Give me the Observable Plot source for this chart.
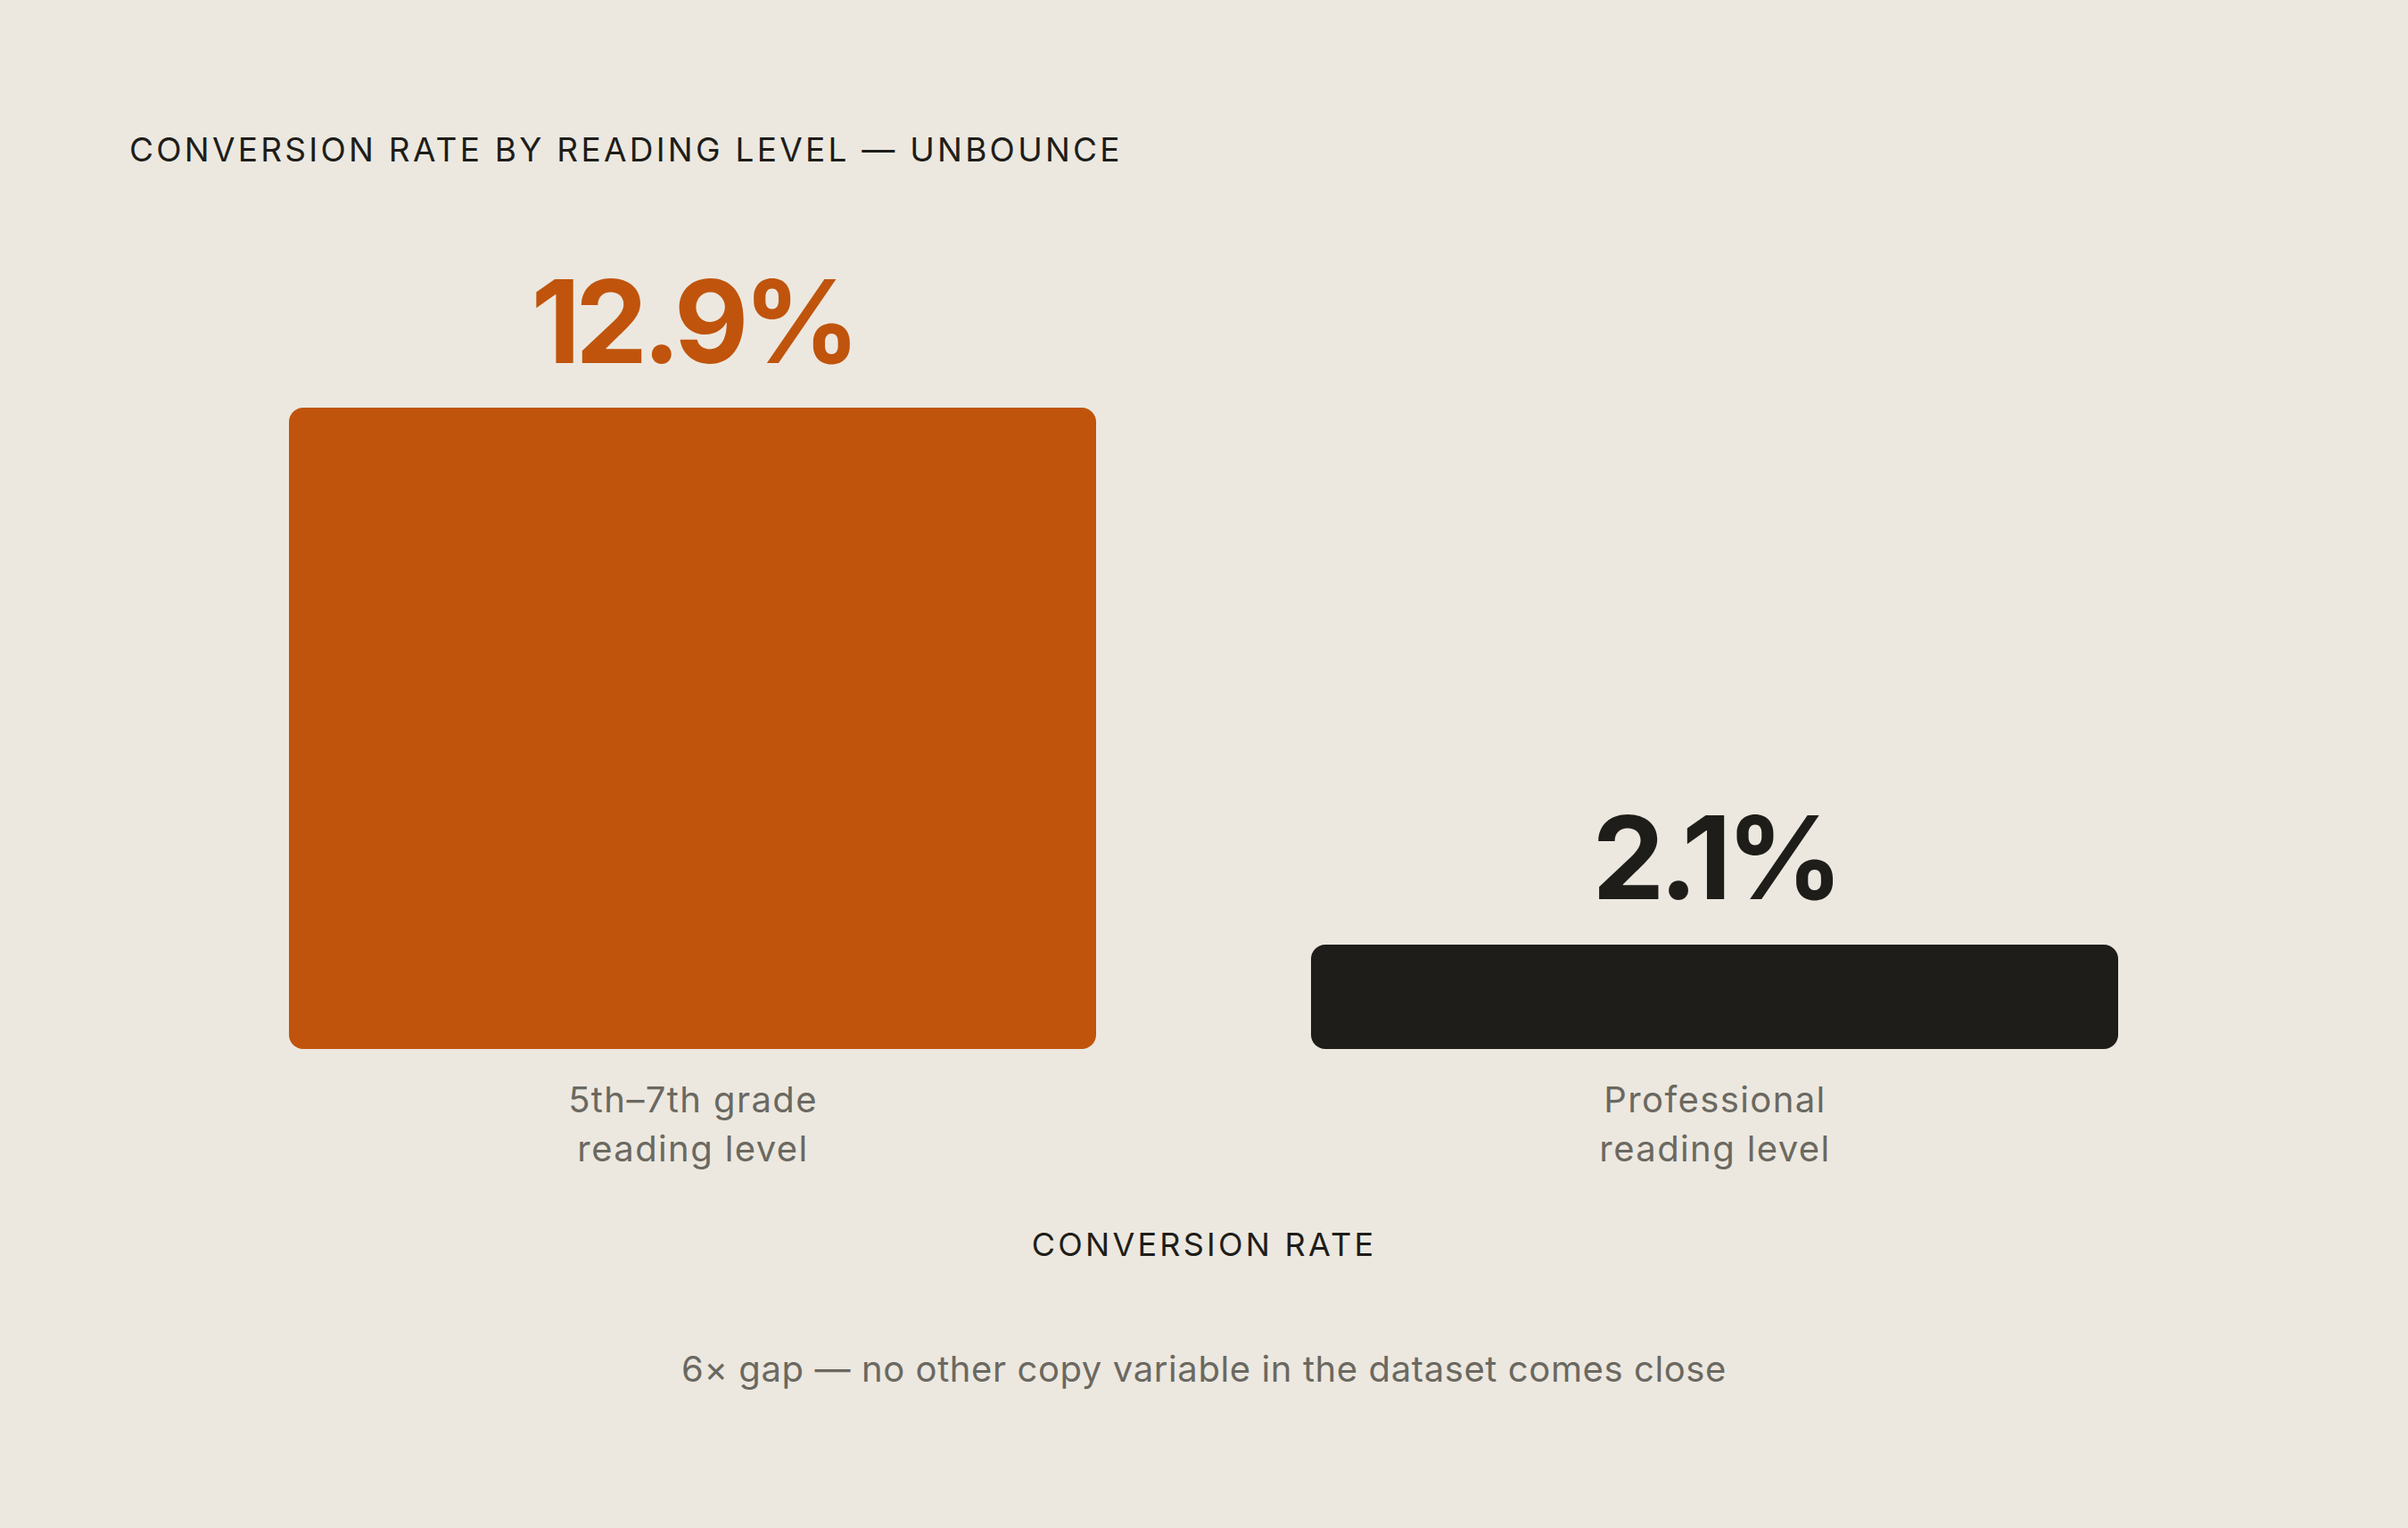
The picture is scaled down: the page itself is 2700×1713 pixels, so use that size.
<!DOCTYPE html>
<html>
<head>
<meta charset="utf-8">
<script src="https://cdn.jsdelivr.net/npm/d3@7"></script>
<script src="https://cdn.jsdelivr.net/npm/@observablehq/plot@0.6"></script>
<style>
  html, body { margin: 0; padding: 0; background: #ece8e0; }
  body { width: 2700px; height: 1713px; overflow: hidden; font-family: Inter, "Noto Sans", sans-serif; }
  #title { margin: 149px 0 0 145px; font-size: 37px; line-height: 37px; letter-spacing: 0.088em; color: #1e1d19; height: 37px; white-space: nowrap; }
  #chart { margin-top: 14px; height: 1125px; }
  #chart svg { display: block; }
  #xlabel { margin-top: 52px; text-align: center; font-size: 36px; line-height: 36px; height: 36px; letter-spacing: 0.09em; color: #1e1d19; }
  #caption { margin-top: 102px; text-align: center; font-size: 40px; line-height: 40px; letter-spacing: 0.015em; color: #6b6860; }
</style>
</head>
<body>
<div id="title">CONVERSION RATE BY READING LEVEL — UNBOUNCE</div>
<div id="chart"></div>
<div id="xlabel">CONVERSION RATE</div>
<div id="caption">6× gap — no other copy variable in the dataset comes close</div>
<script>
const categories = ["5th–7th grade\nreading level", "Professional\nreading level"];
const rates = [12.9, 2.1];
const valueLabels = ["12.9%", "2.1%"];

const palette = ["#c0540c", "#1e1d19"];

const data = categories.map((c, i) => ({category: c, rate: rates[i], label: valueLabels[i]}));

const chart = Plot.plot({
  width: 2700,
  height: 1125,
  marginLeft: 83,
  marginRight: 83,
  marginTop: 257,
  marginBottom: 149,
  style: {background: "transparent", fontFamily: "Inter, 'Noto Sans', sans-serif", overflow: "visible"},
  x: {domain: categories, padding: 0.21, label: null},
  y: {domain: [0, d3.max(rates)], axis: null},
  color: {domain: categories, range: palette},
  marks: [
    Plot.barY(data, {x: "category", y: "rate", fill: "category", rx: 16}),
    Plot.text(data, {
      x: "category", y: "rate", text: "label", fill: "category",
      lineAnchor: "bottom", dy: -51, fontSize: 129, fontWeight: 700
    }),
    Plot.axisX({
      tickSize: 0, tickPadding: 32, fontSize: 40, lineHeight: 1.36,
      color: "#6b6860", label: null
    })
  ]
});
chart.querySelectorAll("text").forEach(t => {
  if (valueLabels.includes(t.textContent)) {
    t.setAttribute("letter-spacing", "-6");
    t.style.letterSpacing = "-6px";
  } else if (t.closest("[aria-label='x-axis tick label']")) {
    t.setAttribute("fill", "#6b6860");
    t.style.letterSpacing = "0.035em";
  }
});
document.getElementById("chart").appendChild(chart);
</script>
</body>
</html>
